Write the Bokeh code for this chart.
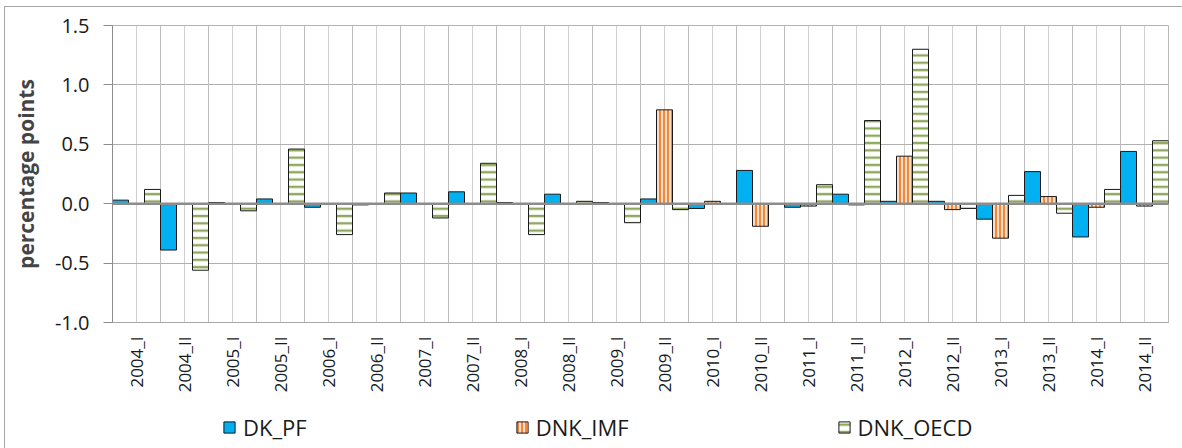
import math
from bokeh.plotting import figure
from bokeh.layouts import column
from bokeh.models import (ColumnDataSource, FactorRange, Range1d, Span, Legend, LegendItem,
                          NumeralTickFormatter, FixedTicker)
from bokeh.transform import dodge
from bokeh.embed import file_html
from bokeh.resources import INLINE

cats = ["2004_I", "2004_II", "2005_I", "2005_II", "2006_I", "2006_II", "2007_I", "2007_II",
        "2008_I", "2008_II", "2009_I", "2009_II", "2010_I", "2010_II", "2011_I", "2011_II",
        "2012_I", "2012_II", "2013_I", "2013_II", "2014_I", "2014_II"]
dk_pf = [0.03, -0.39, 0.01, 0.04, -0.03, -0.01, 0.09, 0.10, 0.01, 0.08, 0.01, 0.04,
         -0.04, 0.28, -0.03, 0.08, 0.02, 0.02, -0.13, 0.27, -0.28, 0.44]
dnk_imf = [0.0, 0.0, 0.0, 0.0, 0.0, 0.0, 0.0, 0.0, 0.0, 0.0, 0.0, 0.79,
           0.02, -0.19, -0.02, -0.01, 0.40, -0.05, -0.29, 0.06, -0.03, -0.02]
dnk_oecd = [0.12, -0.56, -0.06, 0.46, -0.26, 0.09, -0.12, 0.34, -0.26, 0.02, -0.16, -0.05,
            0.0, 0.0, 0.16, 0.70, 1.30, -0.04, 0.07, -0.08, 0.12, 0.53]
series_names = ["DK_PF", "DNK_IMF", "DNK_OECD"]
y_ticks = [-1.0, -0.5, 0.0, 0.5, 1.0, 1.5]

FONT = "Open Sans"
STYLES = [
    dict(fill_color="#00B0F0", line_color="#1a1a1a", line_width=1),
    dict(fill_color="#FDDCC4", line_color="#1a1a1a", line_width=1,
         hatch_pattern="|", hatch_color="#EE7F2D", hatch_scale=4, hatch_weight=1.8),
    dict(fill_color="white", line_color="#1a1a1a", line_width=1,
         hatch_pattern="-", hatch_color="#8FA85C", hatch_scale=7.3, hatch_weight=2.4),
]
cols = ["pf", "imf", "oecd"]

src = ColumnDataSource(dict(cat=cats, pf=dk_pf, imf=dnk_imf, oecd=dnk_oecd))

W = 1177
p = figure(x_range=FactorRange(factors=cats, range_padding=0), y_range=Range1d(-1.0, 1.5),
           width=W, height=393, output_backend="svg", toolbar_location=None,
           min_border_left=107, min_border_top=18, min_border_right=14, min_border_bottom=78)
p.outline_line_color = "#b4b4b4"
p.background_fill_color = "white"

# grid
p.ygrid.ticker = FixedTicker(ticks=y_ticks)
p.ygrid.grid_line_color = "#b0b0b0"
p.xgrid.grid_line_color = "#d0d0d0"
for k in range(len(cats) + 1):
    p.add_layout(Span(location=k, dimension="height", line_color="#bdbdbd", line_width=1, level="underlay"))

w = 1.0 / 3
for i, (col, st) in enumerate(zip(cols, STYLES)):
    p.vbar(x=dodge("cat", (i - 1) * w, range=p.x_range), top=col, bottom=0, width=w,
           source=src, **st)

p.add_layout(Span(location=0, dimension="width", line_color="#8c8c8c", line_width=2.5))

# axes
p.yaxis.ticker = FixedTicker(ticks=y_ticks)
p.yaxis.formatter = NumeralTickFormatter(format="0.0")
p.yaxis.axis_line_color = "#8c8c8c"
p.yaxis.major_tick_line_color = "#8c8c8c"
p.yaxis.major_tick_out = 9
p.yaxis.major_tick_in = 0
p.yaxis.minor_tick_line_color = None
p.yaxis.major_label_text_font = FONT
p.yaxis.major_label_text_font_size = "20px"
p.yaxis.major_label_text_color = "#1a1a1a"
p.yaxis.major_label_standoff = 14
p.yaxis.axis_label = "percentage points"
p.yaxis.axis_label_text_font = FONT
p.yaxis.axis_label_text_font_style = "bold"
p.yaxis.axis_label_text_font_size = "21px"
p.yaxis.axis_label_standoff = 12

p.xaxis.axis_line_color = "#a6a6a6"
p.xaxis.major_tick_line_color = None
p.xaxis.minor_tick_line_color = None
p.xaxis.major_label_orientation = math.pi / 2
p.xaxis.major_label_text_font = FONT
p.xaxis.major_label_text_font_size = "17px"
p.xaxis.major_label_text_color = "#1a1a1a"
p.xaxis.major_label_standoff = 8

# legend strip (same series, bars fall outside its view; only the legend shows)
pl = figure(width=W, height=48, x_range=p.x_range, y_range=Range1d(10, 11),
            x_axis_type=None, y_axis_type=None, output_backend="svg", toolbar_location=None,
            min_border=0, outline_line_color=None)
pl.grid.visible = False
items = []
for i, (name, col, st) in enumerate(zip(series_names, cols, STYLES)):
    r = pl.vbar(x=dodge("cat", (i - 1) * w, range=p.x_range), top=col, bottom=0, width=w,
                source=src, **st)
    items.append(LegendItem(label=name, renderers=[r]))
lg = Legend(items=items, location=(110, 6), orientation="horizontal", padding=0, margin=0,
            spacing=208, border_line_color=None, background_fill_alpha=0,
            glyph_width=14, glyph_height=14, label_standoff=7, label_text_font=FONT,
            label_text_font_size="22px", label_text_color="#1a1a1a")
pl.add_layout(lg)

layout = column(p, pl, spacing=0,
                styles={"margin-left": "4px", "margin-top": "6px",
                        "border-left": "1px solid #a6a6a6", "border-top": "1px solid #a6a6a6"})

open("out.html", "w").write(file_html(layout, INLINE))
